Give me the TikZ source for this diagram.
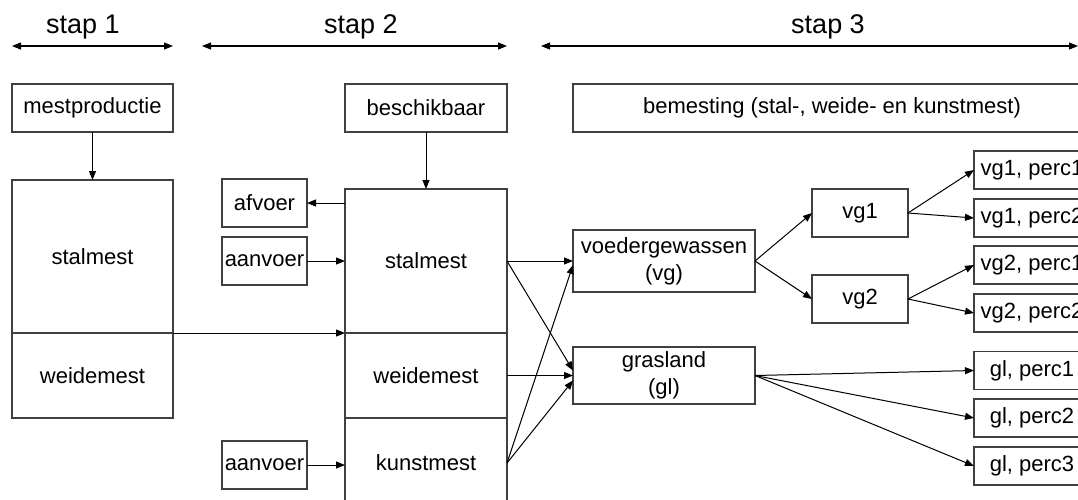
\documentclass[tikz,border=0pt]{standalone}
\usepackage{fontspec}
\setmainfont{Liberation Sans}
\usetikzlibrary{arrows.meta,calc}
\definecolor{boxgray}{RGB}{64,64,64}
\begin{document}
\begin{tikzpicture}[x=1pt,y=-1pt,
  box/.style={draw=boxgray, line width=1.1pt, inner sep=0pt, outer sep=0pt,
    align=center, font=\fontsize{22}{27}\selectfont},
  hdr/.style={font=\fontsize{27}{32}\selectfont, inner sep=0pt, anchor=base},
  arr/.style={draw=black, line width=1pt, -{Triangle[length=9pt,width=7pt]}},
  harr/.style={draw=black, line width=1.2pt,
    {Triangle[length=9pt,width=7pt]}-{Triangle[length=9pt,width=7pt]}}
]
\useasboundingbox (0,0) rectangle (1078,499);
\clip (0,0) rectangle (1078,499);

% step headings
\node[hdr] (s1) at (83,33) {stap 1};
\node[hdr] (s2) at (361,33) {stap 2};
\node[hdr] (s3) at (828,33) {stap 3};
\coordinate (a1l) at (12,46);  \coordinate (a1r) at (173,46);
\coordinate (a2l) at (202,46); \coordinate (a2r) at (507,46);
\coordinate (a3l) at (541,46); \coordinate (a3r) at (1078,46);
\draw[harr] (a1l) -- (a1r);
\draw[harr] (a2l) -- (a2r);
\draw[harr] (a3l) -- (a3r);

% top row
\node[box, minimum width=161, minimum height=48] (mest) at (92.5,108) {mestproductie};
\node[box, minimum width=162, minimum height=48] (besch) at (426,108) {beschikbaar};
\node[box, minimum width=518, minimum height=48] (bem) at (832,108) {bemesting (stal-, weide- en kunstmest)};

% step 1 column
\node[box, minimum width=161, minimum height=153] (stal1) at (92.5,256.5) {stalmest};
\node[box, minimum width=161, minimum height=85] (weide1) at (92.5,375.5) {weidemest};

% step 2 column
\node[box, minimum width=162, minimum height=144] (stal2) at (426,261) {stalmest};
\node[box, minimum width=162, minimum height=85] (weide2) at (426,375.5) {weidemest};
\node[box, minimum width=162, minimum height=90] (kunst2) at (426,463) {kunstmest};

\node[box, minimum width=85, minimum height=48] (afv) at (264.5,203) {afvoer};
\node[box, minimum width=85, minimum height=48] (aan1) at (264.5,261) {aanvoer};
\node[box, minimum width=85, minimum height=48] (aan2) at (264.5,465) {aanvoer};

% step 3
\node[box, minimum width=182, minimum height=62] (vg) at (664,261) {voedergewassen\\(vg)};
\node[box, minimum width=182, minimum height=57] (gl) at (664,375.5) {grasland\\(gl)};
\node[box, minimum width=96, minimum height=48] (vg1) at (860,213) {vg1};
\node[box, minimum width=96, minimum height=48] (vg2) at (860,299) {vg2};

\node[box, minimum width=116, minimum height=38] (p11) at (1032,170) {vg1, perc1};
\node[box, minimum width=116, minimum height=38] (p12) at (1032,218) {vg1, perc2};
\node[box, minimum width=116, minimum height=38] (p21) at (1032,265) {vg2, perc1};
\node[box, minimum width=116, minimum height=38] (p22) at (1032,313) {vg2, perc2};
\node[box, minimum width=116, minimum height=38] (g1) at (1032,370.5) {gl, perc1};
\node[box, minimum width=116, minimum height=38] (g2) at (1032,418) {gl, perc2};
\node[box, minimum width=116, minimum height=38] (g3) at (1032,466) {gl, perc3};

% connectors
\draw[arr] (mest) -- (stal1);
\draw[arr] (besch) -- (stal2);
\draw[arr] (stal2.west |- afv.east) -- (afv.east);
\draw[arr] (aan1.east) -- (aan1.east -| stal2.west);
\draw[arr] (aan2.east) -- (aan2.east -| kunst2.west);
\draw[arr] (stal1.south east) -- (stal2.south west);

\draw[arr] (stal2.east) -- (vg.west);
\draw[arr] (stal2.east) -- ($(gl.west)+(0,-5)$);
\draw[arr] (weide2.east) -- (gl.west);
\draw[arr] (kunst2.east) -- ($(vg.west)+(0,4)$);
\draw[arr] (kunst2.east) -- ($(gl.west)+(0,5)$);

\draw[arr] (vg.east) -- (vg1.west);
\draw[arr] (vg.east) -- (vg2.west);
\draw[arr] (vg1.east) -- (p11.west);
\draw[arr] (vg1.east) -- (p12.west);
\draw[arr] (vg2.east) -- (p21.west);
\draw[arr] (vg2.east) -- (p22.west);
\draw[arr] (gl.east) -- (g1.west);
\draw[arr] (gl.east) -- (g2.west);
\draw[arr] (gl.east) -- (g3.west);
\end{tikzpicture}
\end{document}
